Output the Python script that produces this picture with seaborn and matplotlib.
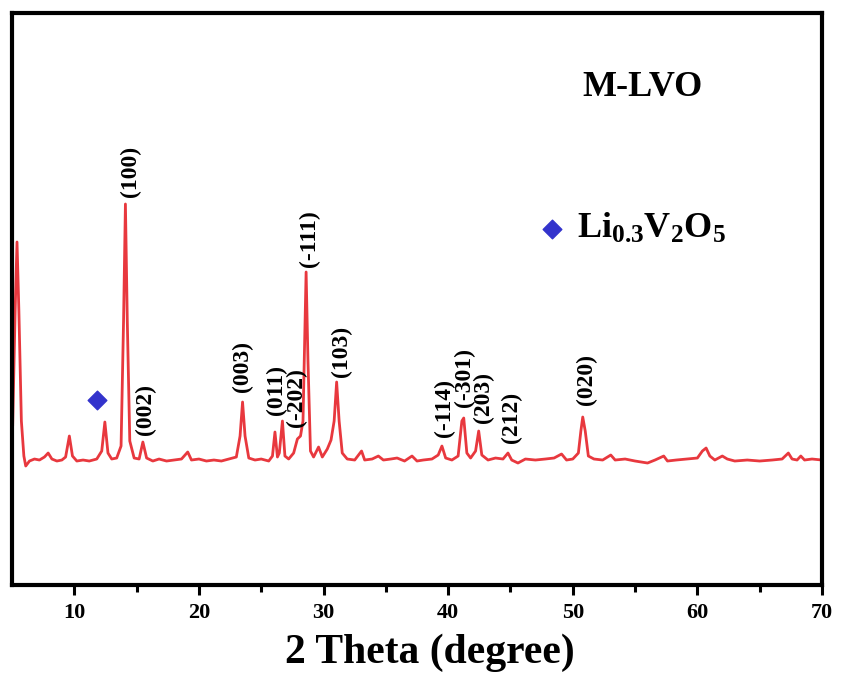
import seaborn as sns
import matplotlib.pyplot as plt
import pandas as pd

sns.set_style("white")
plt.rcParams['font.family'] = ['Liberation Serif', 'DejaVu Serif']
plt.rcParams['font.weight'] = 'bold'
plt.rcParams['text.color'] = 'black'
plt.rcParams['axes.labelcolor'] = 'black'
plt.rcParams['xtick.color'] = 'black'
plt.rcParams['mathtext.fontset'] = 'custom'
plt.rcParams['mathtext.rm'] = 'Liberation Serif:bold'
plt.rcParams['mathtext.bf'] = 'Liberation Serif:bold'

# XRD trace (intensity in arbitrary units, baseline ~0)
two_theta = [5.05, 5.25, 5.4, 5.55, 5.75, 5.95, 6.1, 6.4, 6.8, 7.2, 7.6, 7.9, 8.2, 8.6,
             9.0, 9.3, 9.6, 9.85, 10.2, 10.7, 11.2, 11.8, 12.2, 12.45, 12.7, 13.0, 13.4,
             13.75, 13.95, 14.1, 14.25, 14.45, 14.8, 15.2, 15.5, 15.8, 16.3, 16.8, 17.4,
             18.0, 18.6, 19.1, 19.4, 20.0, 20.6, 21.2, 21.8, 22.4, 23.0, 23.3, 23.5, 23.7,
             24.0, 24.5, 25.0, 25.6, 25.9, 26.1, 26.3, 26.45, 26.7, 26.9, 27.2, 27.6, 27.9,
             28.15, 28.35, 28.5, 28.6, 28.75, 28.95, 29.2, 29.6, 29.9, 30.3, 30.6, 30.85,
             31.05, 31.25, 31.5, 31.9, 32.5, 33.05, 33.3, 33.9, 34.4, 34.8, 35.4, 35.9,
             36.5, 37.1, 37.5, 38.0, 38.7, 39.2, 39.5, 39.8, 40.3, 40.8, 41.1, 41.25, 41.5,
             41.8, 42.2, 42.45, 42.7, 43.2, 43.8, 44.4, 44.8, 45.1, 45.6, 46.2, 47.0, 47.8,
             48.5, 49.1, 49.5, 50.0, 50.45, 50.65, 50.8, 51.0, 51.25, 51.7, 52.4, 53.05,
             53.4, 54.2, 55.0, 56.0, 56.6, 57.3, 57.6, 58.3, 59.2, 60.0, 60.4, 60.7, 61.0,
             61.4, 62.0, 62.4, 63.0, 64.0, 65.0, 66.0, 66.8, 67.3, 67.6, 68.0, 68.3, 68.6,
             69.2, 70.0]
intensity = [35, 150, 219, 150, 40, 5, -5, 0, 2, 1, 4, 8, 2, 0,
             1, 4, 25, 5, 0, 1, 0, 2, 10, 39, 8, 2, 3,
             15, 140, 257, 140, 20, 3, 2, 19, 3, 0, 2, 0,
             1, 2, 9, 1, 2, 0, 1, 0, 2, 4, 25, 59, 25,
             3, 1, 2, 0, 5, 29, 4, 8, 40, 5, 2, 8, 22,
             25, 40, 130, 189, 100, 10, 4, 14, 4, 12, 21, 40,
             79, 40, 8, 2, 1, 10, 1, 2, 5, 1, 2, 3,
             0, 5, 0, 1, 2, 6, 15, 3, 1, 5, 40, 43, 8,
             3, 10, 30, 6, 1, 3, 2, 8, 1, -2, 2, 1, 2,
             3, 7, 1, 2, 8, 30, 44, 30, 5, 2, 1, 6,
             1, 2, 0, -2, 1, 5, 0, 1, 2, 3, 10, 13, 5,
             1, 5, 2, 0, 1, 0, 1, 2, 8, 2, 1, 5, 1,
             2, 1]

# Miller index labels
hkl_labels = ['(100)', '(002)', '(003)', '(011)', '(-202)', '(-111)', '(103)',
              '(-114)', '(-301)', '(203)', '(212)', '(020)']
hkl_x = [14.5, 15.7, 23.5, 26.2, 27.8, 28.9, 31.45, 39.7, 41.3, 42.8, 45.1, 51.1]
hkl_y = [264, 26, 69, 46, 34, 194, 84, 24, 54, 38, 18, 56]

# Li0.3V2O5 impurity marker
impurity_x = [11.85]
impurity_y = [61]

df = pd.DataFrame({'two_theta': two_theta, 'intensity': intensity})

fig = plt.figure(figsize=(8.41, 6.84), dpi=100)
ax = fig.add_axes([0.0143, 0.1447, 0.9631, 0.8363])

sns.lineplot(data=df, x='two_theta', y='intensity', ax=ax, color='#e8383e',
             linewidth=2.0, sort=False)
ax.scatter(impurity_x, impurity_y, marker='D', s=90, color='#3333cc', zorder=3,
           label=r'$\mathbf{Li_{0.3}V_2O_5}$')

for lab, x, y in zip(hkl_labels, hkl_x, hkl_y):
    ax.text(x, y, lab, rotation=90, ha='center', va='bottom', fontsize=17,
            fontweight='bold')

ax.text(0.778, 0.869, 'M-LVO', transform=ax.transAxes, ha='center', va='center',
        fontsize=26, fontweight='bold')

ax.legend(loc='center left', bbox_to_anchor=(0.631, 0.622), frameon=False,
          fontsize=26, handlelength=0.6, handletextpad=0.4, borderpad=0,
          markerscale=1.0)

ax.set_xlim(5, 70)
ax.set_ylim(-124, 448)
ax.set_xticks([10, 20, 30, 40, 50, 60, 70])
ax.set_xticks([15, 25, 35, 45, 55, 65], minor=True)
ax.set_yticks([])
ax.tick_params(axis='x', which='major', direction='out', length=7, width=2.2,
               labelsize=16, bottom=True, pad=6)
ax.tick_params(axis='x', which='minor', direction='out', length=5, width=2.2,
               bottom=True)
for lab in ax.get_xticklabels():
    lab.set_fontweight('bold')
for sp in ax.spines.values():
    sp.set_linewidth(3)
    sp.set_color('black')

ax.set_xlabel('2 Theta (degree)', fontsize=30, fontweight='bold')
ax.xaxis.set_label_coords(0.516, -0.085)
ax.set_ylabel('')

fig.savefig('out.png', dpi=100)
